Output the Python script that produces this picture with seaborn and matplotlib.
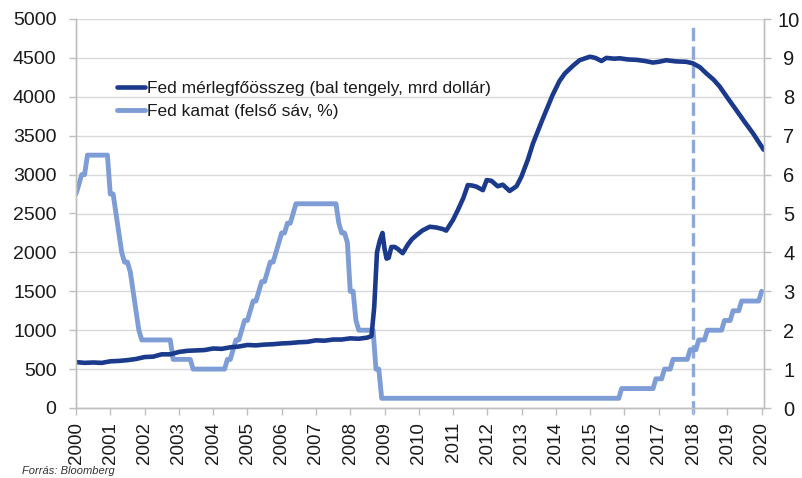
import numpy as np
import pandas as pd
import matplotlib
matplotlib.use("Agg")
import matplotlib.pyplot as plt
import seaborn as sns

# ---------------- data ----------------
# Fed balance sheet (billion USD)
bs_year = [2000.00, 2000.25, 2000.50, 2000.75, 2001.00, 2001.25, 2001.50, 2001.75,
           2002.00, 2002.25, 2002.50, 2002.75, 2003.00, 2003.25, 2003.50, 2003.75,
           2004.00, 2004.25, 2004.50, 2004.75, 2005.00, 2005.25, 2005.50, 2005.75,
           2006.00, 2006.25, 2006.50, 2006.75, 2007.00, 2007.25, 2007.50, 2007.75,
           2008.00, 2008.25, 2008.50, 2008.62, 2008.70, 2008.78, 2008.86, 2008.94,
           2009.00, 2009.06, 2009.12, 2009.20, 2009.30, 2009.40, 2009.53, 2009.68,
           2009.80, 2009.93, 2010.10, 2010.32, 2010.51, 2010.70, 2010.80, 2011.00,
           2011.14, 2011.30, 2011.43, 2011.55, 2011.68, 2011.87, 2011.98, 2012.12,
           2012.30, 2012.45, 2012.65, 2012.85, 2012.99, 2013.18, 2013.33, 2013.60,
           2013.90, 2014.10, 2014.26, 2014.50, 2014.69, 2014.99, 2015.15, 2015.33,
           2015.47, 2015.70, 2015.86, 2016.10, 2016.35, 2016.60, 2016.83, 2017.00,
           2017.22, 2017.50, 2017.80, 2018.00, 2018.20, 2018.39, 2018.60, 2018.78,
           2019.00, 2019.26, 2019.50, 2019.75, 2020.06]
bs_value = [590, 580, 585, 580, 600, 605, 615, 630,
            655, 660, 690, 690, 720, 735, 740, 745,
            765, 760, 780, 790, 810, 805, 815, 820,
            830, 835, 845, 850, 870, 865, 880, 880,
            895, 890, 905, 925, 1300, 2000, 2150, 2250,
            2050, 1920, 1930, 2070, 2070, 2040, 1990, 2100,
            2170, 2220, 2280, 2330, 2320, 2300, 2280, 2420,
            2545, 2700, 2865, 2860, 2845, 2800, 2930, 2920,
            2850, 2870, 2790, 2850, 2970, 3190, 3400, 3700,
            4020, 4200, 4300, 4400, 4470, 4515, 4500, 4460,
            4500, 4490, 4495, 4480, 4475, 4460, 4440, 4450,
            4470, 4455, 4450, 4430, 4380, 4300, 4220, 4130,
            3990, 3830, 3680, 3530, 3320]

# Fed funds rate, upper band (%), monthly from Jan 2000 to Jan 2020
rate_2000 = [5.5, 5.75, 6.0, 6.0, 6.5, 6.5, 6.5, 6.5, 6.5, 6.5, 6.5, 6.5]
rate_2001 = [5.5, 5.5, 5.0, 4.5, 4.0, 3.75, 3.75, 3.5, 3.0, 2.5, 2.0, 1.75]
rate_2002 = [1.75] * 10 + [1.25, 1.25]
rate_2003 = [1.25] * 5 + [1.0] * 7
rate_2004 = [1.0] * 5 + [1.25, 1.25, 1.5, 1.75, 1.75, 2.0, 2.25]
rate_2005 = [2.25, 2.5, 2.75, 2.75, 3.0, 3.25, 3.25, 3.5, 3.75, 3.75, 4.0, 4.25]
rate_2006 = [4.5, 4.5, 4.75, 4.75, 5.0, 5.25, 5.25, 5.25, 5.25, 5.25, 5.25, 5.25]
rate_2007 = [5.25] * 8 + [4.75, 4.5, 4.5, 4.25]
rate_2008 = [3.0, 3.0, 2.25, 2.0, 2.0, 2.0, 2.0, 2.0, 2.0, 1.0, 1.0, 0.25]
rate_2009_2014 = [0.25] * 72
rate_2015 = [0.25] * 11 + [0.5]
rate_2016 = [0.5] * 11 + [0.75]
rate_2017 = [0.75, 0.75, 1.0, 1.0, 1.0, 1.25, 1.25, 1.25, 1.25, 1.25, 1.25, 1.5]
rate_2018 = [1.5, 1.5, 1.75, 1.75, 1.75, 2.0, 2.0, 2.0, 2.0, 2.0, 2.0, 2.25]
rate_2019 = [2.25, 2.25, 2.5, 2.5, 2.5, 2.75, 2.75, 2.75, 2.75, 2.75, 2.75, 2.75]
rate_2020 = [3.0]
rate_monthly = (rate_2000 + rate_2001 + rate_2002 + rate_2003 + rate_2004 + rate_2005
                + rate_2006 + rate_2007 + rate_2008 + rate_2009_2014 + rate_2015
                + rate_2016 + rate_2017 + rate_2018 + rate_2019 + rate_2020)
rate_year = [2000 + i / 12 for i in range(len(rate_monthly))]

year_ticks = list(range(2000, 2021))
left_ticks = list(range(0, 5001, 500))
right_ticks = list(range(0, 11))
marker_year = 2018

label_bs = "Fed mérlegfőösszeg (bal tengely, mrd dollár)"
label_rate = "Fed kamat (felső sáv, %)"
source = "Forrás: Bloomberg"

# ---------------- style ----------------
sns.set_theme(style="white")
plt.rcParams["font.family"] = ["Liberation Sans", "DejaVu Sans"]

dark = "#1B3A8C"
light = "#7E9DD6"
dash_col = "#8DA8D9"
grid_col = "#D9D9D9"
spine_col = "#BFBFBF"
text_col = "#1a1a1a"

fig = plt.figure(figsize=(8.03, 4.78), dpi=100)
ax = fig.add_axes([76 / 803, 1 - 408 / 478, (764 - 76) / 803, (408 - 19) / 478])
ax2 = ax.twinx()

df_bs = pd.DataFrame({"year": bs_year, "value": bs_value})
df_rate = pd.DataFrame({"year": rate_year, "value": rate_monthly})

# rate on right axis (drawn below), balance sheet on left axis (on top)
sns.lineplot(data=df_rate, x="year", y="value", ax=ax2, color=light,
             linewidth=3.5, label=label_rate, legend=False)
ax2.axvline(marker_year, ymin=-0.015, ymax=0.985, color=dash_col, linewidth=2.4,
            dashes=(4.0, 1.6), clip_on=False, zorder=1)
sns.lineplot(data=df_bs, x="year", y="value", ax=ax, color=dark,
             linewidth=3.3, label=label_bs, legend=False)

ax.set_zorder(ax2.get_zorder() + 1)
ax.patch.set_visible(False)

ax.set_xlim(2000, 2020.07)
ax.set_ylim(0, 5000)
ax2.set_ylim(0, 10)
ax.set_xlabel("")
ax.set_ylabel("")
ax2.set_ylabel("")

ax.set_yticks(left_ticks)
ax.set_yticklabels([str(v) for v in left_ticks])
ax2.set_yticks(right_ticks)
ax2.set_yticklabels([str(v) for v in right_ticks])
ax.set_xticks(year_ticks)
ax.set_xticklabels([str(y) for y in year_ticks], rotation=90)

ax.grid(False)
ax2.grid(axis="y", color=grid_col, linewidth=1.0)
ax2.set_axisbelow(True)

for a in (ax, ax2):
    a.spines["top"].set_visible(False)
    for s in ("left", "right", "bottom"):
        a.spines[s].set_color(spine_col)
        a.spines[s].set_linewidth(1.0)

ax.tick_params(axis="y", which="major", left=True, length=5, width=1.0,
               color=spine_col, labelsize=14, labelcolor=text_col, pad=9)
ax.tick_params(axis="x", which="major", bottom=True, length=5, width=1.0,
               color=spine_col, labelsize=13.5, labelcolor=text_col, pad=5)
ax2.tick_params(axis="y", which="major", right=True, length=5, width=1.0,
                color=spine_col, labelsize=14.5, labelcolor=text_col, pad=13)
for lbl in ax2.get_yticklabels():
    lbl.set_horizontalalignment("center")

# legend
h1, l1 = ax.get_legend_handles_labels()
h2, l2 = ax2.get_legend_handles_labels()
leg = ax.legend(h1 + h2, l1 + l2, loc="upper left",
                bbox_to_anchor=(117 / 803, 1 - 81 / 478),
                bbox_transform=fig.transFigure, frameon=False,
                fontsize=12.5, handlelength=1.6, handletextpad=0.1,
                labelspacing=0.45, borderpad=0, borderaxespad=0)
for t in leg.get_texts():
    t.set_color(text_col)

fig.text(22 / 803, 1 - 471 / 478, source, fontsize=8, style="italic",
         color="#333333", va="center", ha="left")

fig.savefig("out.png", dpi=100)
